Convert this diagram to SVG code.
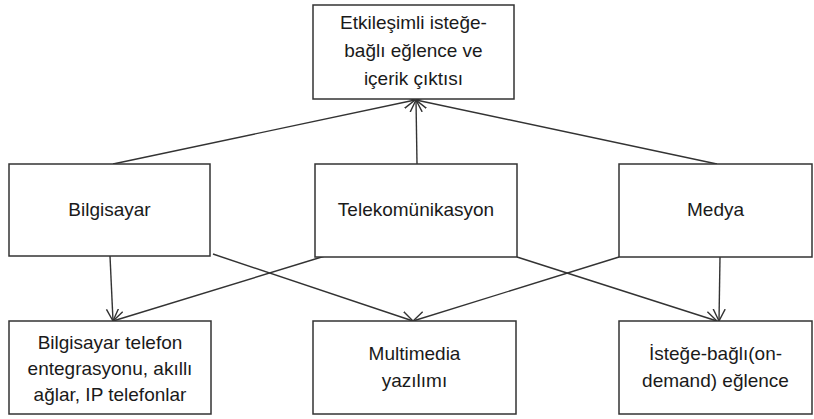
<svg xmlns="http://www.w3.org/2000/svg" width="814" height="419" viewBox="0 0 814 419">
<style>
.box{fill:#fff;stroke:#333;stroke-width:1.5}
.t{font-family:"Liberation Sans",Arial,sans-serif;font-size:19px;fill:#1a1a1a;text-anchor:middle}
.c{stroke:#333;stroke-width:1.4;fill:none;marker-end:url(#ah)}
</style>
<defs>
<marker id="ah" markerUnits="userSpaceOnUse" markerWidth="14" markerHeight="14" refX="12" refY="6" orient="auto" viewBox="0 0 14 12">
<path d="M0,0 L12,6 L0,12" fill="none" stroke="#333" stroke-width="1.4"/>
</marker>
</defs>
<rect width="814" height="419" fill="#fff"/>
<g id="connectors">
<line class="c" x1="113" y1="164" x2="415" y2="100"/>
<line class="c" x1="417" y1="164" x2="416" y2="100"/>
<line class="c" x1="717" y1="164" x2="416" y2="100"/>
<line class="c" x1="110" y1="256" x2="113" y2="321"/>
<line class="c" x1="325" y1="256" x2="113" y2="321"/>
<line class="c" x1="213" y1="254" x2="413" y2="321"/>
<line class="c" x1="619" y1="257" x2="413" y2="321"/>
<line class="c" x1="517" y1="257" x2="717" y2="321"/>
<line class="c" x1="720" y1="257" x2="719" y2="321"/>
</g>
<g id="top">
<rect class="box" x="313" y="5" width="201" height="94"/>
<text class="t" x="413.5" y="29">Etkileşimli isteğe-</text>
<text class="t" x="413.5" y="57">bağlı eğlence ve</text>
<text class="t" x="413.5" y="85">içerik çıktısı</text>
</g>
<g id="bilgisayar">
<rect class="box" x="9" y="164" width="201" height="92"/>
<text class="t" x="109.5" y="216">Bilgisayar</text>
</g>
<g id="telekom">
<rect class="box" x="315" y="164" width="202" height="93"/>
<text class="t" x="416" y="216">Telekomünikasyon</text>
</g>
<g id="medya">
<rect class="box" x="619" y="164" width="193" height="93"/>
<text class="t" x="715.5" y="216">Medya</text>
</g>
<g id="cti">
<rect class="box" x="9" y="321" width="202" height="93"/>
<text class="t" x="110" y="349">Bilgisayar telefon</text>
<text class="t" x="110" y="375">entegrasyonu, akıllı</text>
<text class="t" x="110" y="401">ağlar, IP telefonlar</text>
</g>
<g id="multimedia">
<rect class="box" x="313" y="321" width="203" height="93"/>
<text class="t" x="414.5" y="360">Multimedia</text>
<text class="t" x="414.5" y="387">yazılımı</text>
</g>
<g id="ondemand">
<rect class="box" x="619" y="321" width="193" height="93"/>
<text class="t" x="715.5" y="360">İsteğe-bağlı(on-</text>
<text class="t" x="715.5" y="387">demand) eğlence</text>
</g>
</svg>
